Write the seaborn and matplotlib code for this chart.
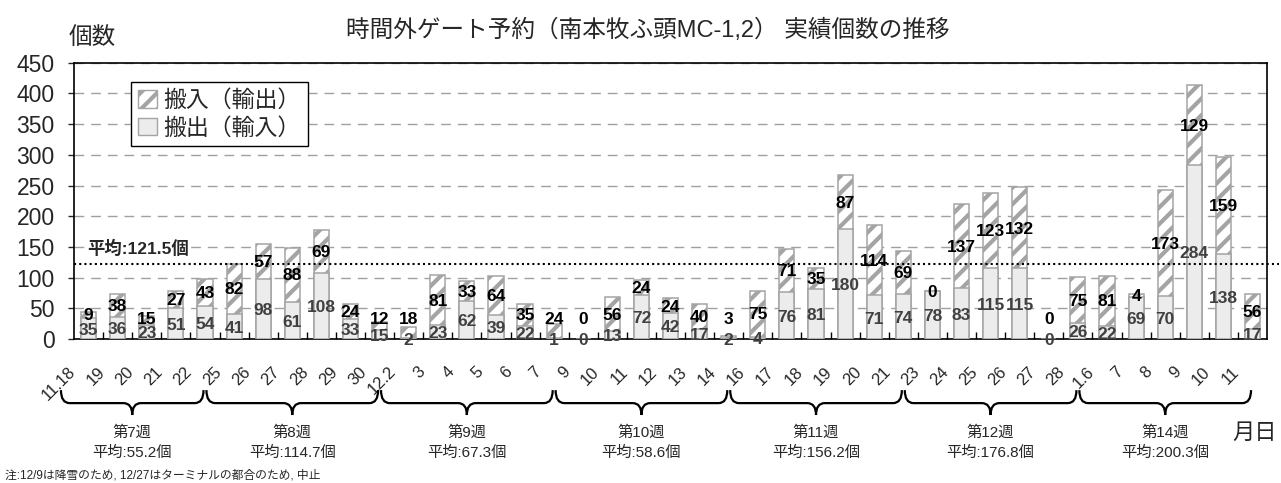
import numpy as np
import pandas as pd
import matplotlib
matplotlib.use("Agg")
import matplotlib.pyplot as plt
import seaborn as sns
from matplotlib.patches import Patch, PathPatch
from matplotlib.path import Path
from matplotlib.transforms import ScaledTranslation

# ---- data -------------------------------------------------------------
dates = ["11/18", "11/19", "11/20", "11/21", "11/22", "11/25", "11/26", "11/27",
         "11/28", "11/29", "11/30",
         "12/2", "12/3", "12/4", "12/5", "12/6", "12/7", "12/9", "12/10", "12/11",
         "12/12", "12/13", "12/14", "12/16", "12/17", "12/18", "12/19", "12/20",
         "12/21", "12/23", "12/24", "12/25", "12/26", "12/27", "12/28",
         "1/6", "1/7", "1/8", "1/9", "1/10", "1/11"]
tick_labels = ["11.18", "19", "20", "21", "22", "25", "26", "27", "28", "29", "30",
               "12.2", "3", "4", "5", "6", "7", "9", "10", "11", "12", "13", "14",
               "16", "17", "18", "19", "20", "21", "23", "24", "25", "26", "27", "28",
               "1.6", "7", "8", "9", "10", "11"]
# 搬出(輸入) -- lower segment
carry_out = [35, 36, 23, 51, 54, 41, 98, 61, 108, 33, 15,
             2, 23, 62, 39, 22, 1, 0, 13, 72, 42, 17, 2, 4, 76, 81, 180, 71, 74,
             78, 83, 115, 115, 0, 26,
             22, 69, 70, 284, 138, 17]
# 搬入(輸出) -- upper segment
carry_in = [9, 38, 15, 27, 43, 82, 57, 88, 69, 24, 12,
            18, 81, 33, 64, 35, 24, 0, 56, 24, 24, 40, 3, 75, 71, 35, 87, 114, 69,
            0, 137, 123, 132, 0, 75,
            81, 4, 173, 129, 159, 56]
week_names = ["第7週", "第8週", "第9週", "第10週", "第11週", "第12週", "第14週"]
week_avgs = [55.2, 114.7, 67.3, 58.6, 156.2, 176.8, 200.3]
week_sizes = [5, 6, 6, 6, 6, 6, 6]
overall_avg = 121.5

title = "時間外ゲート予約（南本牧ふ頭MC-1,2） 実績個数の推移"
note = "注:12/9は降雪のため, 12/27はターミナルの都合のため, 中止"

# ---- style ------------------------------------------------------------
sns.set_style("ticks")
plt.rcParams["font.family"] = ["Liberation Sans", "Noto Sans CJK JP"]
plt.rcParams["hatch.linewidth"] = 3.0

EDGE = "#a4a4a4"
FILL = "#ececec"

df = pd.DataFrame({"date": dates, "lower": carry_out, "upper": carry_in})
df["total"] = df["lower"] + df["upper"]
n = len(df)

fig = plt.figure(figsize=(12.81, 4.83), dpi=100)
ax = fig.add_axes([0.0578, 0.2981, 0.9313, 0.5720])

# stacked bars: full height hatched, lower part solid on top of it
sns.barplot(data=df, x="date", y="total", order=dates, color="white",
            saturation=1, width=0.52, edgecolor=EDGE, linewidth=1.1,
            hatch="//", ax=ax, zorder=2)
sns.barplot(data=df, x="date", y="lower", order=dates, color=FILL,
            saturation=1, width=0.52, edgecolor=EDGE, linewidth=1.1,
            ax=ax, zorder=3)

ax.set_xlim(-0.5, n - 0.5)
ax.set_ylim(0, 450)
ax.set_xlabel("")
ax.set_ylabel("")

# grid and frame
ax.set_yticks(np.arange(0, 451, 50))
ax.yaxis.grid(True, linestyle=(0, (7, 5)), color="#a0a0a0", linewidth=1.0)
ax.xaxis.grid(False)
ax.set_axisbelow(True)
for s in ax.spines.values():
    s.set_visible(True)
    s.set_color("black")
    s.set_linewidth(1.2)

ax.tick_params(axis="y", direction="out", length=4, width=1, pad=10,
               labelsize=16.5)

# category labels, rotated, and small inward ticks between days
ax.set_xticks(range(n))
ax.set_xticklabels(tick_labels, rotation=45, ha="right", fontsize=12)
ax.tick_params(axis="x", which="major", length=0, pad=18)
ax.set_xticks(np.arange(0.5, n - 1, 1), minor=True)
ax.tick_params(axis="x", which="minor", direction="in", length=5, width=1,
               color="black")
shift = ScaledTranslation(-0.10, 0, fig.dpi_scale_trans)
for lab in ax.get_xticklabels():
    lab.set_transform(lab.get_transform() + shift)

# overall average
ax.axhline(overall_avg, xmin=0, xmax=1.01, clip_on=False, color="black",
           linestyle=(0, (1, 1.5)), linewidth=1.5, zorder=4)
ax.text(-0.05, 147, f"平均:{overall_avg}個", ha="left", va="center",
        fontsize=12.5, fontweight="bold", zorder=5,
        bbox=dict(facecolor="white", edgecolor="none", pad=0.5))

# value labels
for i, (lo, up) in enumerate(zip(carry_out, carry_in)):
    ax.text(i, lo / 2 - 3, str(lo), ha="center", va="center", fontsize=12.5,
            fontweight="bold", color="#404040", zorder=6)
    ax.text(i, max(lo + up / 2 - 2, 32), str(up), ha="center", va="center",
            fontsize=12.5, fontweight="bold", color="black", zorder=6)

# legend
handles = [Patch(facecolor="white", edgecolor=EDGE, hatch="//", label="搬入（輸出）"),
           Patch(facecolor=FILL, edgecolor=EDGE, label="搬出（輸入）")]
leg = ax.legend(handles=handles, loc="upper left", bbox_to_anchor=(0.048, 0.93),
                fontsize=16.5, frameon=True, fancybox=False, framealpha=1,
                edgecolor="black", handlelength=0.8, handleheight=0.8,
                handletextpad=0.3, borderpad=0.3, labelspacing=0.2,
                borderaxespad=0)
leg.get_frame().set_linewidth(1.0)
leg.set_zorder(7)

# week braces with their averages underneath
trans = ax.get_xaxis_transform()
y_top, y_mid, y_tip = -0.185, -0.232, -0.275
r = 0.3
start = 0
for name, avg, size in zip(week_names, week_avgs, week_sizes):
    first, last = start, start + size - 1
    x0, x1 = first - 0.95, last - 0.05
    xc = (x0 + x1) / 2
    verts = [(x0, y_top), (x0, y_mid), (x0 + r, y_mid),
             (xc - r, y_mid), (xc, y_mid), (xc, y_tip),
             (xc, y_mid), (xc + r, y_mid),
             (x1 - r, y_mid), (x1, y_mid), (x1, y_top)]
    codes = [Path.MOVETO, Path.CURVE3, Path.CURVE3,
             Path.LINETO, Path.CURVE3, Path.CURVE3,
             Path.CURVE3, Path.CURVE3,
             Path.LINETO, Path.CURVE3, Path.CURVE3]
    ax.add_patch(PathPatch(Path(verts, codes), transform=trans, clip_on=False,
                           facecolor="none", edgecolor="black", linewidth=1.6))
    ax.text(xc, -0.337, name, transform=trans, ha="center", va="center",
            fontsize=11)
    ax.text(xc, -0.413, f"平均:{avg}個", transform=trans, ha="center",
            va="center", fontsize=11)
    start += size

# titles and annotations
fig.text(0.506, 1 - 30 / 483, title, ha="center", va="center", fontsize=17)
fig.text(92 / 1281, 1 - 38 / 483, "個数", ha="center", va="center", fontsize=17)
fig.text(1255 / 1281, 1 - 433 / 483, "月日", ha="center", va="center", fontsize=16)
fig.text(5 / 1281, 1 - 475 / 483, note, ha="left", va="center", fontsize=8.5)

fig.savefig("out.png", dpi=100)
